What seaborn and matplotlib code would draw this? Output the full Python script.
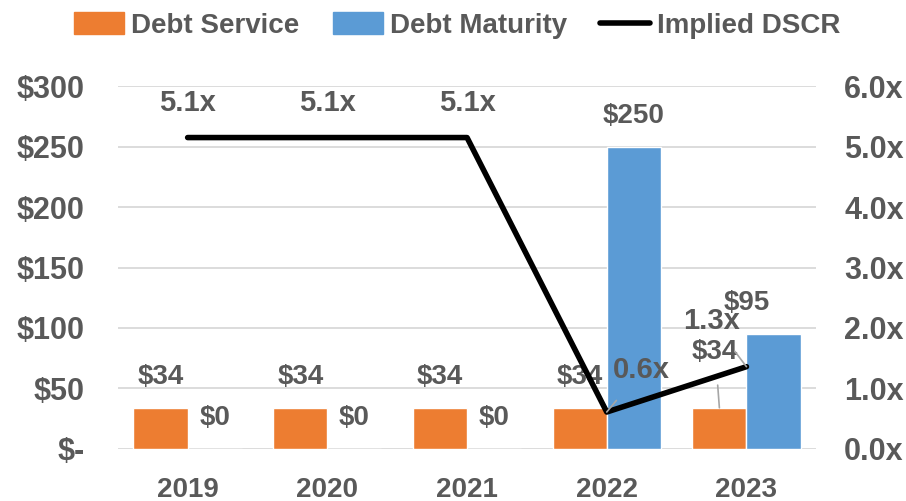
import numpy as np
import pandas as pd
import seaborn as sns
import matplotlib.pyplot as plt
from matplotlib.patches import Patch
from matplotlib.lines import Line2D

# chart values
years = ['2019', '2020', '2021', '2022', '2023']
debt_service = [34, 34, 34, 34, 34]
debt_maturity = [0, 0, 0, 250, 95]
dscr = [5.15, 5.15, 5.15, 0.61, 1.36]
dscr_labels = ['5.1x', '5.1x', '5.1x', '0.6x', '1.3x']

ORANGE = '#ED7D31'
BLUE = '#5B9BD5'
TXT = '#595959'

sns.set_theme(style='white')
plt.rcParams['font.family'] = ['Liberation Sans Narrow', 'Liberation Sans', 'DejaVu Sans']
plt.rcParams['font.weight'] = 'bold'

df = pd.DataFrame({
    'year': years * 2,
    'value': debt_service + debt_maturity,
    'series': ['Debt Service'] * 5 + ['Debt Maturity'] * 5,
})

fig = plt.figure(figsize=(9.06, 5.01), dpi=100)
ax = fig.add_axes([0.130, 0.104, 0.771, 0.724])

sns.barplot(data=df, x='year', y='value', hue='series', palette=[ORANGE, BLUE],
            width=0.775, ax=ax, legend=False, saturation=1)
ax.set_xlim(-0.5, 4.5)
ax.set_ylim(0, 300)
ax.set_yticks(np.arange(0, 301, 50))
ax.set_yticklabels(['$-'] + ['$%d' % v for v in range(50, 301, 50)])
ax.yaxis.grid(True, color='#D9D9D9', linewidth=1.3)
ax.set_axisbelow(True)
ax.set_xlabel('')
ax.set_ylabel('')
for s in ax.spines.values():
    s.set_visible(False)
ax.tick_params(axis='x', length=0, labelsize=20, labelcolor=TXT, pad=20)
ax.tick_params(axis='y', length=0, labelsize=22, labelcolor=TXT, pad=24)

ax2 = ax.twinx()
sns.lineplot(x=np.arange(5), y=dscr, color='black', linewidth=4, ax=ax2)
ax2.set_ylim(0, 6)
ax2.set_yticks(np.arange(0, 6.1, 1))
ax2.set_yticklabels(['%.1fx' % v for v in np.arange(0, 6.1, 1)])
for s in ax2.spines.values():
    s.set_visible(False)
ax2.tick_params(axis='y', length=0, labelsize=22, labelcolor=TXT, pad=20)
ax2.grid(False)

bw = 0.775 / 2
lab = dict(ha='center', va='center', fontsize=20, color=TXT, fontweight='bold')
lead = dict(arrowstyle='-', color='#A6A6A6', lw=1.2, shrinkA=12, shrinkB=0)

# bar labels
for i in range(5):
    xo = i - bw / 2
    xb = i + bw / 2
    if i < 4:
        ax.annotate('$%d' % debt_service[i], (xo, debt_service[i]), xytext=(0, 22),
                    textcoords='offset points', **lab)
    if i < 3:
        ax.annotate('$%d' % debt_maturity[i], (xb, debt_maturity[i]), xytext=(0, 22),
                    textcoords='offset points', **lab)
ax.annotate('$%d' % debt_maturity[3], (3 + bw / 2, debt_maturity[3]), xytext=(0, 22),
            textcoords='offset points', **lab)
ax.annotate('$%d' % debt_maturity[4], (4 + bw / 2, debt_maturity[4]), xytext=(-19, 22),
            textcoords='offset points', **lab)
ax.annotate('$%d' % debt_service[4], (4 - bw / 2, debt_service[4]), xytext=(-3, 40),
            textcoords='offset points', arrowprops=lead, **lab)

# DSCR labels
lab2 = dict(lab, fontsize=21)
for i in range(3):
    ax2.annotate(dscr_labels[i], (i, dscr[i]), xytext=(0, 25), textcoords='offset points', **lab2)
ax2.annotate(dscr_labels[3], (3, dscr[3]), xytext=(25, 30), textcoords='offset points',
             arrowprops=lead, **lab2)
ax2.annotate(dscr_labels[4], (4, dscr[4]), xytext=(-25, 33), textcoords='offset points',
             arrowprops=lead, **lab2)

handles = [Patch(color=ORANGE), Patch(color=BLUE), Line2D([0], [0], color='black', lw=4)]
fig.legend(handles, ['Debt Service', 'Debt Maturity', 'Implied DSCR'], loc='upper center',
           bbox_to_anchor=(0.505, 1.025), ncol=3, frameon=False, fontsize=20,
           labelcolor=TXT, handlelength=1.8, handleheight=0.8, handletextpad=0.25,
           columnspacing=1.2)

plt.savefig('out.png', dpi=100)
